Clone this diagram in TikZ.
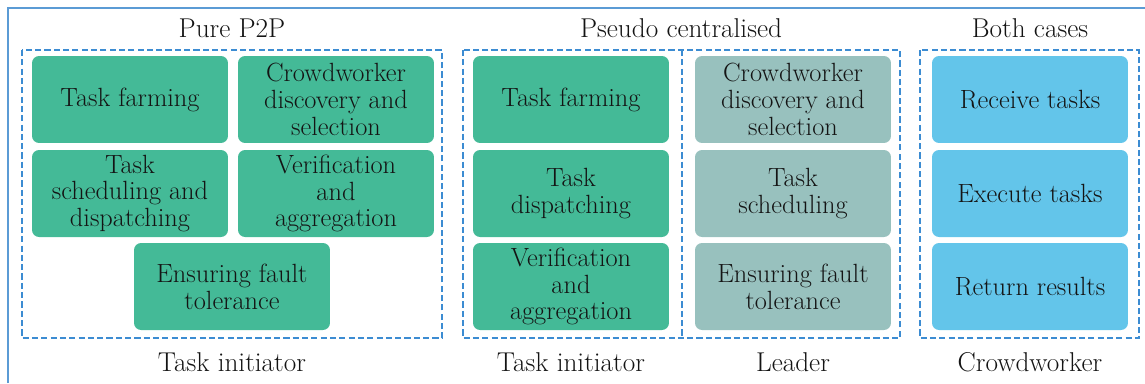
\documentclass[tikz,border=0pt]{standalone}
\usepackage{tikz}

\definecolor{initiator}{RGB}{68,186,151}
\definecolor{leader}{RGB}{152,193,190}
\definecolor{worker}{RGB}{99,197,234}
\definecolor{frame}{RGB}{91,155,213}
\definecolor{dash}{RGB}{60,140,210}
\definecolor{ink}{RGB}{20,20,20}

\tikzset{
  role/.style={rounded corners=4pt, minimum width=3.92cm, minimum height=1.74cm,
    inner xsep=1pt, inner ysep=1pt, align=center, text=ink, font=\fontsize{15}{15.2}\selectfont},
  caption/.style={text=ink, font=\fontsize{15.5}{15.2}\selectfont},
  group/.style={draw=dash, line width=0.8pt, dash pattern=on 3.5pt off 1.8pt}
}

\begin{document}
\begin{tikzpicture}[x=0.02cm,y=-0.02cm]
  \useasboundingbox (0,0) rectangle (1145,383);
  % outer frame
  \draw [frame, line width=1pt](8,383) -- (8,8) -- (1145,8);
  % titles
  \node[caption] at(232,28)(tpure){Pure P2P};
  \node[caption] at(681,28)(tpseudo){Pseudo centralised};
  \node[caption] at(1030,28)(tboth){Both cases};
  % groups
  \draw [group](22,50) rectangle (442,338);
  \draw [group](463,50) rectangle (900,338);
  \draw [group](682,50) -- (682,338);
  \draw [group](920,50) rectangle (1139,338);
  % pure P2P
  \node[role, fill=initiator] at(130,99.5)(pfarm){Task farming};
  \node[role, fill=initiator] at(336,99.5)(pdisc){Crowdworker\\discovery and\\selection};
  \node[role, fill=initiator] at(130,193.5)(psched){Task\\scheduling and\\dispatching};
  \node[role, fill=initiator] at(336,193.5)(pverif){Verification\\and\\aggregation};
  \node[role, fill=initiator] at(232,286.5)(pfault){Ensuring fault\\tolerance};
  % pseudo centralised, initiator
  \node[role, fill=initiator] at(571,99.5)(cfarm){Task farming};
  \node[role, fill=initiator] at(571,193.5)(cdisp){Task\\dispatching};
  \node[role, fill=initiator] at(571,286.5)(cverif){Verification\\and\\aggregation};
  % pseudo centralised, leader
  \node[role, fill=leader] at(793,99.5)(ldisc){Crowdworker\\discovery and\\selection};
  \node[role, fill=leader] at(793,193.5)(lsched){Task\\scheduling};
  \node[role, fill=leader] at(793,286.5)(lfault){Ensuring fault\\tolerance};
  % both cases
  \node[role, fill=worker] at(1030,99.5)(wrecv){Receive tasks};
  \node[role, fill=worker] at(1030,193.5)(wexec){Execute tasks};
  \node[role, fill=worker] at(1030,286.5)(wret){Return results};
  % role names
  \node[caption] at(232,362)(npure){Task initiator};
  \node[caption] at(571,362)(ninit){Task initiator};
  \node[caption] at(793,362)(nlead){Leader};
  \node[caption] at(1030,362)(nwork){Crowdworker};
\end{tikzpicture}
\end{document}
